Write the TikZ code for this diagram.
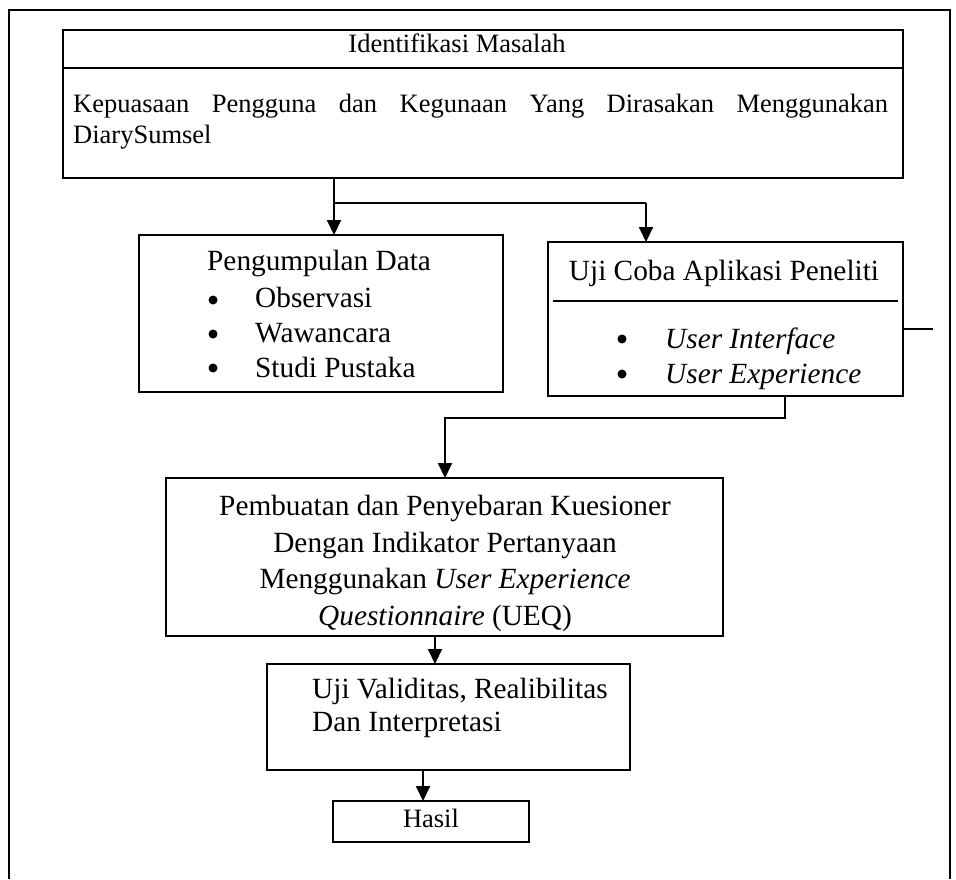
\documentclass[tikz,border=0pt]{standalone}
\usepackage{fontspec}
\setmainfont{Liberation Serif}
\usetikzlibrary{arrows.meta}
\tikzset{
  box/.style={draw, line width=1.3pt, inner sep=0pt, outer sep=0pt, anchor=north west},
  conn/.style={line width=2pt},
  arr/.style={conn, -{Triangle[length=15pt,width=14pt]}},
  big/.style={font=\fontsize{29.3}{36}\selectfont, inner sep=0pt},
  small/.style={font=\fontsize{26.5}{33}\selectfont, inner sep=0pt},
  dot/.style={circle, fill, inner sep=0pt, minimum size=9pt},
}
\begin{document}
\begin{tikzpicture}[x=1pt,y=-1pt]
\useasboundingbox (0,0) rectangle (956,879);
% outer frame
\draw[line width=1.3pt] (9,879) -- (9,10) -- (950,10) -- (950,879);

% boxes
\node[box, line width=2pt, minimum width=840pt, minimum height=148pt] (idm) at (63,30) {};
\node[box, minimum width=364pt, minimum height=157pt] (pd) at (139,235) {};
\node[box, minimum width=355pt, minimum height=154pt] (uji) at (548,242) {};
\node[box, minimum width=557pt, minimum height=158pt] (keu) at (166,478) {};
\node[box, minimum width=363pt, minimum height=106pt] (val) at (267,664) {};
\node[box, minimum width=196pt, minimum height=41pt] (has) at (333,801) {};

% separators
\coordinate (sepA) at (0,68);
\draw[line width=2pt] (idm.west |- sepA) -- (idm.east |- sepA);
\coordinate (sepBl) at (553,301);
\coordinate (sepBr) at (898,301);
\draw[line width=1.3pt] (sepBl) -- (sepBr);

% top box text
\node[small, anchor=base] (t1) at (457,52) {Identifikasi Masalah};
\node[small, anchor=base west] (t2) at (73,112) {\makebox[815pt][s]{Kepuasaan Pengguna dan Kegunaan Yang Dirasakan Menggunakan}};
\node[small, anchor=base west] (t3) at (73,143) {DiarySumsel};

% Pengumpulan Data
\node[big, anchor=base west] (p0) at (207,270) {Pengumpulan Data};
\node[dot] (pb1) at (213,300) {};
\node[dot] (pb2) at (213,334) {};
\node[dot] (pb3) at (213,368) {};
\node[big, anchor=base west] (p1) at (255,307) {Observasi};
\node[big, anchor=base west] (p2) at (255,342) {Wawancara};
\node[big, anchor=base west] (p3) at (255,377) {Studi Pustaka};

% Uji Coba
\node[big, anchor=base] (u0) at (724,280) {Uji Coba Aplikasi Peneliti};
\node[dot] (ub1) at (622,339) {};
\node[dot] (ub2) at (622,374) {};
\node[big, anchor=base west] (u1) at (665,348) {\textit{User Interface}};
\node[big, anchor=base west] (u2) at (665,383) {\textit{User Experience}};

% Kuesioner
\node[big, anchor=base] (k1) at (445,515) {Pembuatan dan Penyebaran Kuesioner};
\node[big, anchor=base] (k2) at (445,552) {Dengan Indikator Pertanyaan};
\node[big, anchor=base] (k3) at (445,588) {Menggunakan \textit{User Experience}};
\node[big, anchor=base] (k4) at (445,625) {\textit{Questionnaire} (UEQ)};

% Validitas
\node[big, anchor=base west] (v1) at (312,698) {Uji Validitas, Realibilitas};
\node[big, anchor=base west] (v2) at (312,731) {Dan Interpretasi};

% Hasil
\node[small, anchor=base] (h1) at (431,827) {Hasil};

% connectors
\coordinate (br) at (334,203);
\coordinate (brR) at (646,203);
\draw[arr] (idm.south -| br) -- (pd.north -| br);
\draw[conn] (br) -- (brR);
\draw[arr] (brR) -- (uji.north -| brR);

\coordinate (ux) at (785,418);
\coordinate (kx) at (445,418);
\draw[arr] (uji.south -| ux) -- (ux) -- (kx) -- (keu.north -| kx);

\coordinate (kv) at (435,650);
\draw[arr] (keu.south -| kv) -- (val.north -| kv);

\coordinate (vh) at (423,785);
\draw[arr] (val.south -| vh) -- (has.north -| vh);

\coordinate (stub) at (933,329);
\draw[line width=1.3pt] (uji.east |- stub) -- (stub);
\end{tikzpicture}
\end{document}
